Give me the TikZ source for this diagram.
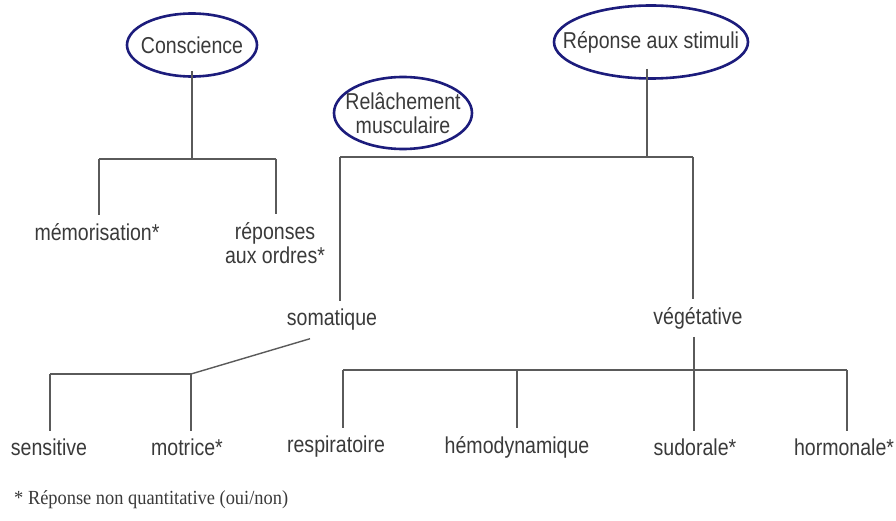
\documentclass[tikz,border=0pt]{standalone}
\usepackage{fontspec}
\setmainfont{Liberation Sans}[FakeStretch=0.85]
\newfontfamily\footfont{Liberation Serif}[FakeStretch=0.92]
\usetikzlibrary{shapes.geometric,calc}
\definecolor{txt}{HTML}{3A3A3A}
\definecolor{ln}{HTML}{5A5A5A}
\definecolor{ell}{HTML}{1C1C7C}
\begin{document}
\begin{tikzpicture}[x=1pt,y=-1pt,
  lab/.style={text=txt,font=\fontsize{23}{24}\selectfont,inner sep=3pt,outer sep=5pt,align=center},
  oval/.style={draw=ell,line width=2.6pt},
  conn/.style={draw=ln,line width=1.4pt}]
\useasboundingbox (0,0) rectangle (896,521);
\fill[white] (0,0) rectangle (896,521);

% top ovals (text nodes + drawn rings)
\node[lab] (c) at (192,45) {Conscience};
\node[lab] (rel) at (403,113) {Relâchement\\musculaire};
\node[lab] (rs) at (651,42) {Réponse aux stimuli};
\draw[oval] (c) ellipse [x radius=65, y radius=31.5];
\draw[oval] (rel) ellipse [x radius=69, y radius=36];
\draw[oval] (rs) ellipse [x radius=97, y radius=36.5];

% labels
\node[lab] (mem) at (97,232) {mémorisation*};
\node[lab] (rep) at (275,243) {réponses\\aux ordres*};
\node[lab] (som) at (332,320) {somatique};
\node[lab] (veg) at (698,318) {végétative};
\node[lab] (sen) at (49,447) {sensitive};
\node[lab] (mot) at (187,447) {motrice*};
\node[lab] (resp) at (336,447) {respiratoire};
\node[lab] (hemo) at (517,447) {hémodynamique};
\node[lab] (sud) at (695,447) {sudorale*};
\node[lab] (horm) at (844,447) {hormonale*};
\node[anchor=west,text=txt,inner sep=0pt] (foot) at (14,500)
  {\footfont\fontsize{20}{22}\selectfont * Réponse non quantitative (oui/non)};

% Conscience branch
\coordinate (cj) at (192,159);
\coordinate (cl) at (99,159);
\coordinate (cr) at (276,159);
\draw[conn] ($(c)+(0,26)$) -- (cj);
\draw[conn] (cl) -- (cr);
\draw[conn] (cl) -- (cl |- mem.north);
\draw[conn] (cr) -- (cr |- rep.north);

% Reponse aux stimuli branch
\coordinate (rj) at (647,157);
\coordinate (rl) at (340,157);
\coordinate (rr) at (693,157);
\draw[conn] ($(rs)+(-4,27)$) -- (rj);
\draw[conn] (rl) -- (rr);
\draw[conn] (rl) -- (rl |- som.north);
\draw[conn] (rr) -- (rr |- veg.north);

% somatique branch
\coordinate (sj) at (191,374);
\coordinate (sl) at (50,374);
\draw[conn] ($(som.south)+(-22,0)$) -- (sj);
\draw[conn] (sl) -- (sj);
\draw[conn] (sl) -- (sl |- sen.north);
\draw[conn] (sj) -- (sj |- mot.north);

% vegetative branch
\coordinate (vl) at (343,370);
\coordinate (vh) at (517,370);
\coordinate (vs) at (694,370);
\coordinate (vr) at (847,370);
\draw[conn] (vl) -- (vr);
\draw[conn] (vs |- veg.south) -- (vs |- sud.north);
\draw[conn] (vl) -- (vl |- resp.north);
\draw[conn] (vh) -- (vh |- hemo.north);
\draw[conn] (vr) -- (vr |- horm.north);
\end{tikzpicture}
\end{document}
